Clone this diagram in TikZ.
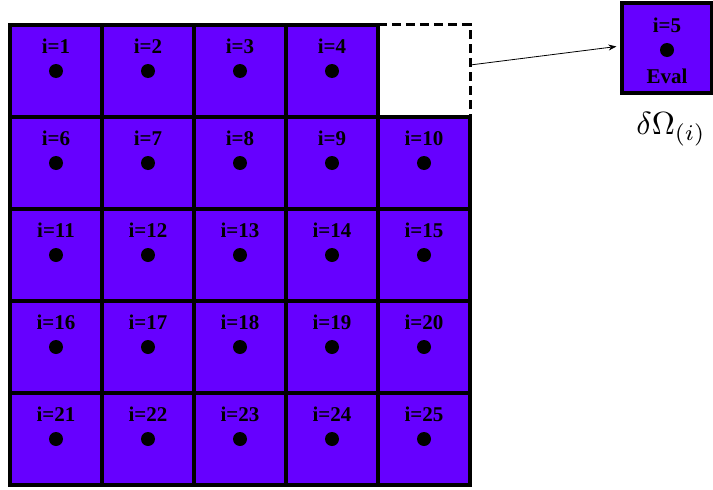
\documentclass[tikz,border=0pt]{standalone}
\usepackage{fontspec}
\setmainfont{Liberation Serif}
\usetikzlibrary{arrows.meta,positioning}
\definecolor{cellviolet}{RGB}{102,0,255}

\begin{document}
\begin{tikzpicture}[x=1pt,y=-1pt]
\tikzset{cell/.style={draw=black,line width=3.2pt,fill=cellviolet,minimum size=92pt,inner sep=0pt},
	lbl/.style={font=\fontsize{21}{21}\selectfont\bfseries,inner sep=0pt},
	pt/.style={circle,fill=black,minimum size=14pt,inner sep=0pt}}
\useasboundingbox (0,0) rectangle (713,490);
% 5x5 grid of cells, cell 5 left empty
\foreach \r in {0,...,4}
	\foreach \c in {0,...,4} {
		\pgfmathtruncatemacro\n{5*\r+\c+1}
		\ifnum\n=5
			\node[minimum size=92pt,inner sep=0pt] (c\n) at (56+92*\c,71+92*\r) {};
		\else
			\node[cell] (c\n) at (56+92*\c,71+92*\r) {};
			\node[pt] (d\n) at (c\n.center) {};
			\node[lbl,above=10pt of d\n] (l\n) {i=\n};
		\fi
	}
\draw[line width=3.2pt,dash pattern=on 9pt off 5pt] (c5.north west) -- (c5.north east) -- (c5.south east);
% evaluated cell
\node[cell,minimum size=90pt] (ev) at (667,48) {};
\node[pt] (d5) at ([yshift=-2pt]ev.center) {};
\node[lbl,above=10pt of d5] (l5) {i=5};
\node[lbl,below=12pt of d5] (eval) {Eval};
\draw[-{Stealth[length=8pt,width=6pt]},line width=0.8pt,shorten >=4pt] ([yshift=6pt]c5.east) -- ([yshift=2pt]ev.west);
\node (om) at (671,129) {\scalebox{3.2}{$\delta\Omega_{(i)}$}};
\end{tikzpicture}
\end{document}
